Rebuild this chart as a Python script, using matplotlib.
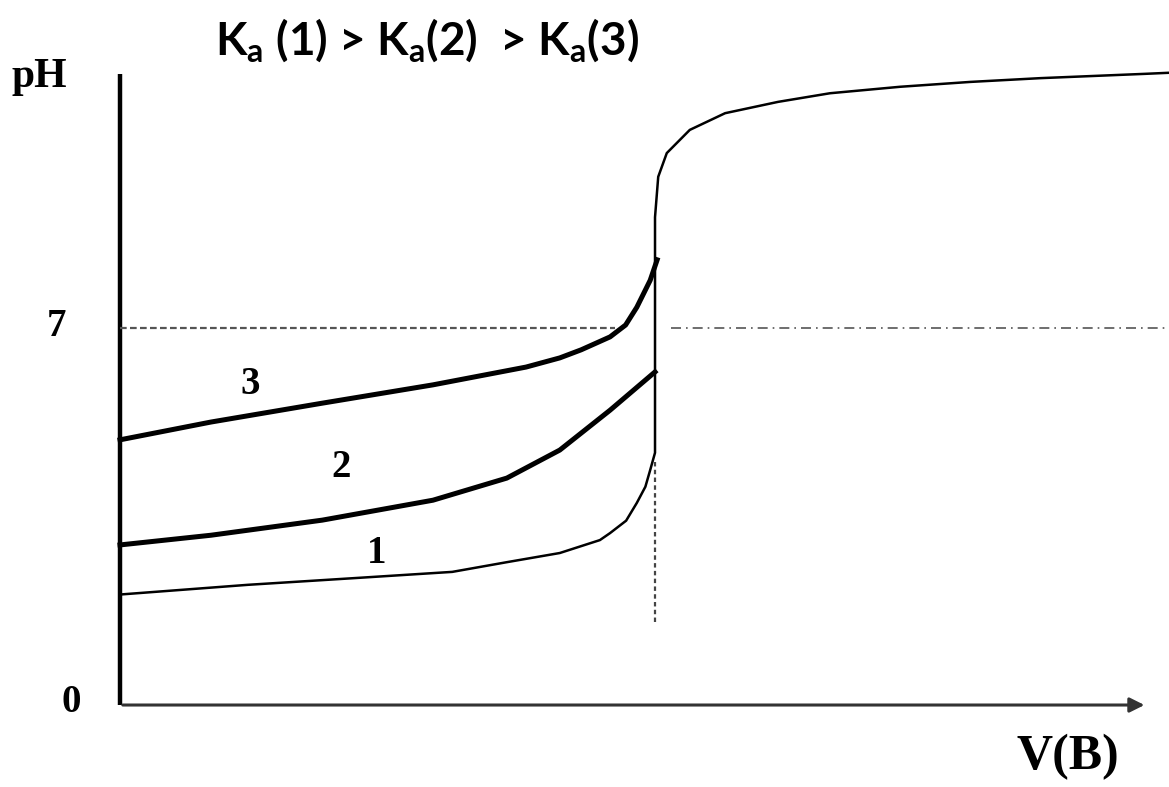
import matplotlib.pyplot as plt

# volume of base added (equivalence at 10) and pH
v1 = [0, 2.39, 4.47, 6.21, 7.23, 8.22, 8.97, 9.16, 9.46, 9.66, 9.82, 9.91, 10.0,
      10.0, 10.06, 10.22, 10.65, 11.31, 12.30, 13.27, 14.58, 15.89, 17.20, 19.16, 19.61]
ph1 = [2.05, 2.23, 2.36, 2.47, 2.65, 2.82, 3.06, 3.19, 3.42, 3.75, 4.05, 4.36, 4.68,
       9.05, 9.80, 10.24, 10.67, 10.98, 11.19, 11.35, 11.47, 11.56, 11.63, 11.71, 11.73]

v2 = [0, 1.70, 3.78, 5.85, 7.23, 8.22, 9.16, 10.0]
ph2 = [2.97, 3.15, 3.43, 3.80, 4.21, 4.73, 5.47, 6.18]

v3 = [0, 1.70, 3.78, 5.85, 7.59, 8.22, 8.62, 9.16, 9.45, 9.66, 9.91, 10.04]
ph3 = [4.92, 5.25, 5.60, 5.94, 6.27, 6.44, 6.59, 6.83, 7.05, 7.38, 7.88, 8.26]

ph_neutral = 7
v_eq = 10
ph_eq_bottom = 1.54
v_max = 19.2
ph_top = 11.7

fig = plt.figure(figsize=(11.69, 7.87), dpi=100)
ax = fig.add_axes([0, 0, 1, 1])
ax.set_xlim(-2.243, 19.607)
ax.set_ylim(-1.521, 13.08)
ax.axis('off')

# axes drawn by hand
ax.plot([0, 0], [0, ph_top], color='black', lw=3.2, solid_capstyle='butt')
ax.annotate('', xy=(v_max, 0), xytext=(0, 0),
            arrowprops=dict(arrowstyle='-|>', color='#333333', lw=2.2, mutation_scale=22))

# guide lines
ax.plot([0, 9.25], [ph_neutral, ph_neutral], color='#555555', lw=1.6, ls=(0, (3, 1.5)))
ax.plot([10.3, 19.6], [ph_neutral, ph_neutral], color='#555555', lw=1.2, ls=(0, (6, 3, 1, 3)))
ax.plot([v_eq, v_eq], [ph_eq_bottom, 4.5], color='#444444', lw=1.6, ls=(0, (2, 1.5)))

# titration curves
ax.plot(v1, ph1, color='black', lw=1.8, solid_joinstyle='round')
ax.plot(v2, ph2, color='black', lw=3.6, solid_joinstyle='round')
ax.plot(v3, ph3, color='black', lw=3.6, solid_joinstyle='round')

serif = dict(family='Liberation Serif', weight='bold', color='black')
ax.text(-1.5, 11.65, 'pH', fontsize=30, ha='center', va='center', **serif)
ax.text(-1.18, 7.02, '7', fontsize=28, ha='center', va='center', **serif)
ax.text(-0.92, 0.04, '0', fontsize=28, ha='center', va='center', **serif)
ax.text(17.72, -0.96, 'V(B)', fontsize=36, ha='center', va='center', **serif)
ax.text(2.43, 5.95, '3', fontsize=28, ha='center', va='center', **serif)
ax.text(4.13, 4.4, '2', fontsize=28, ha='center', va='center', **serif)
ax.text(4.79, 2.82, '1', fontsize=28, ha='center', va='center', **serif)

ax.text(5.74, 12.34, r'K$_\mathregular{a}$ (1) > K$_\mathregular{a}$(2)  > K$_\mathregular{a}$(3)',
        fontsize=33, ha='center', va='center', family='Lato', weight='bold')

fig.savefig('out.png', dpi=100)
